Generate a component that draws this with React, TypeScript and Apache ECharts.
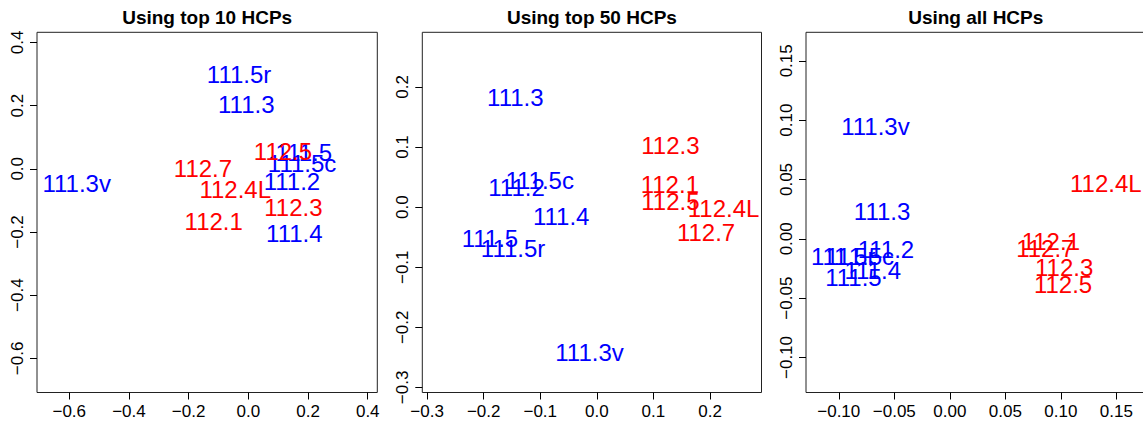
import React, { useEffect, useRef } from "react";
import * as echarts from "echarts";

// Panel titles
const titles = ["Using top 10 HCPs", "Using top 50 HCPs", "Using all HCPs"];

// Panel 1: top 10 HCPs
const names1 = ["111.5r", "111.3", "112.5", "111.5", "111.5c", "112.7", "111.3v", "112.4L", "111.2", "112.3", "112.1", "111.4"];
const x1 = [-0.031, -0.007, 0.116, 0.186, 0.180, -0.152, -0.575, -0.044, 0.146, 0.151, -0.116, 0.154];
const y1 = [0.300, 0.202, 0.055, 0.050, 0.016, 0.002, -0.047, -0.066, -0.040, -0.124, -0.166, -0.205];

// Panel 2: top 50 HCPs
const names2 = ["111.3", "112.3", "111.5c", "111.2", "112.1", "112.5", "112.4L", "111.4", "112.7", "111.5", "111.5r", "111.3v"];
const x2 = [-0.144, 0.130, -0.101, -0.142, 0.129, 0.130, 0.224, -0.063, 0.193, -0.189, -0.148, -0.013];
const y2 = [0.183, 0.102, 0.045, 0.033, 0.038, 0.009, -0.002, -0.016, -0.042, -0.053, -0.069, -0.242];

// Panel 3: all HCPs
const names3 = ["111.3v", "112.4L", "111.3", "111.2", "111.5r", "111.5c", "111.4", "111.5", "112.1", "112.7", "112.3", "112.5"];
const x3 = [-0.067, 0.1405, -0.061, -0.0575, -0.096, -0.081, -0.0694, -0.0868, 0.091, 0.086, 0.103, 0.102];
const y3 = [0.095, 0.047, 0.023, -0.009, -0.015, -0.015, -0.0268, -0.0324, -0.002, -0.008, -0.024, -0.0386];

// Axis ranges and ticks
const lims = [
  [-0.708, 0.432],
  [-0.3085, 0.291],
  [-0.1295, 0.174],
];
const ticks1 = [-0.6, -0.4, -0.2, 0, 0.2, 0.4];
const ticks2 = [-0.3, -0.2, -0.1, 0, 0.1, 0.2];
const ticks3 = [-0.1, -0.05, 0, 0.05, 0.1, 0.15];
const tickSets = [ticks1, ticks2, ticks3];
const decimals = [1, 1, 2];

const FONT = "'Liberation Sans', Arial, Helvetica, sans-serif";
const BLUE = "#0000FF";
const RED = "#FF0000";
const BOX = "#222";

const grids = [
  { left: 37, top: 32.3, width: 340.3, height: 360.2 },
  { left: 422.3, top: 32.3, width: 339.2, height: 360.2 },
  { left: 806, top: 32.3, width: 339.5, height: 360.2 },
];

function fmt(d: number) {
  return (v: number) => {
    if (Math.abs(v) < 1e-9) return (0).toFixed(d);
    return (v < 0 ? "\u2212" : "") + Math.abs(v).toFixed(d);
  };
}

function makeAxis(i: number, isY: boolean) {
  return {
    type: "value",
    gridIndex: i,
    min: lims[i][0],
    max: lims[i][1],
    axisLine: { show: false, onZero: false },
    splitLine: { show: false },
    axisTick: {
      show: true,
      length: 7,
      lineStyle: { color: "#000", width: 1 },
      customValues: tickSets[i],
    },
    axisLabel: {
      customValues: tickSets[i],
      formatter: fmt(decimals[i]),
      fontSize: 17,
      color: "#000",
      fontFamily: FONT,
      margin: isY ? 11 : 10,
      rotate: isY ? 90 : 0,
    },
  };
}

function makeSeries(i: number, names: string[], xs: number[], ys: number[], prefix: string, color: string) {
  const data = names
    .map((n, k) => ({ name: n, value: [xs[k], ys[k]] }))
    .filter((d) => d.name.startsWith(prefix));
  return {
    type: "scatter",
    xAxisIndex: i,
    yAxisIndex: i,
    symbolSize: 1,
    itemStyle: { color: "rgba(0,0,0,0)", opacity: 1 },
    data,
    label: {
      show: true,
      position: "inside",
      formatter: (p: any) => p.name,
      color,
      opacity: 1,
      fontSize: 24,
      fontFamily: FONT,
      align: "center",
      verticalAlign: "middle",
    },
    emphasis: { disabled: true },
  };
}

export default function App() {
  const ref = useRef<HTMLDivElement>(null);
  useEffect(() => {
    if (!ref.current) return;
    const chart = echarts.init(ref.current, null, { renderer: "svg" });
    const panels = [
      [names1, x1, y1],
      [names2, x2, y2],
      [names3, x3, y3],
    ] as [string[], number[], number[]][];
    const series: any[] = [];
    panels.forEach(([n, xs, ys], i) => {
      series.push(makeSeries(i, n, xs, ys, "111", BLUE));
      series.push(makeSeries(i, n, xs, ys, "112", RED));
    });
    const g3 = grids[2];
    const titleEls = titles.map((t, i) => ({
      type: "text",
      x: grids[i].left + grids[i].width / 2,
      y: 17,
      style: {
        text: t,
        fontSize: 19,
        fontWeight: "bold",
        fontFamily: FONT,
        fill: "#000",
        align: "center",
        verticalAlign: "middle",
      },
    }));
    chart.setOption({
      animation: false,
      backgroundColor: "#fff",
      grid: grids.map((g, i) => ({
        ...g,
        show: i < 2,
        borderColor: BOX,
        borderWidth: 1,
        backgroundColor: "transparent",
      })),
      xAxis: [0, 1, 2].map((i) => makeAxis(i, false)),
      yAxis: [0, 1, 2].map((i) => makeAxis(i, true)),
      graphic: [
        ...titleEls,
        {
          type: "polyline",
          silent: true,
          shape: {
            points: [
              [g3.left + g3.width + 10, g3.top],
              [g3.left, g3.top],
              [g3.left, g3.top + g3.height],
              [g3.left + g3.width + 10, g3.top + g3.height],
            ],
          },
          style: { stroke: BOX, lineWidth: 1, fill: "none" },
        },
      ],
      series,
    });
    return () => chart.dispose();
  }, []);
  return <div ref={ref} style={{ position: "fixed", left: 0, top: 0, width: 1143, height: 423 }} />;
}
